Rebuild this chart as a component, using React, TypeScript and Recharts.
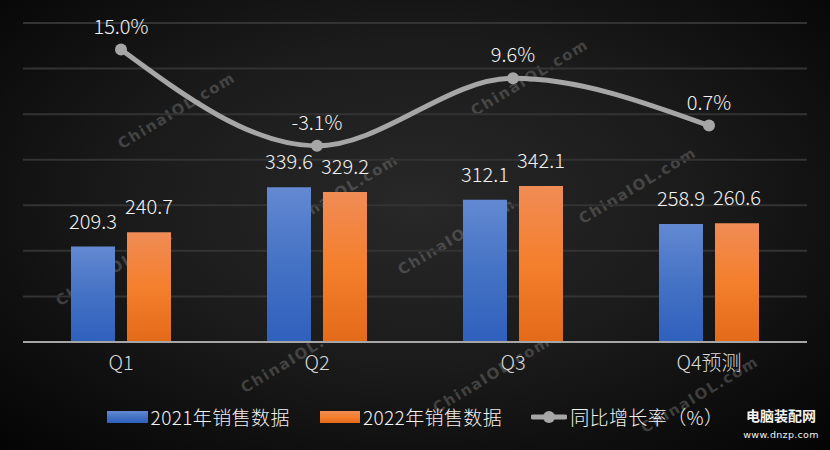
import React from "react";
import {
  ComposedChart,
  Bar,
  Line,
  XAxis,
  YAxis,
  CartesianGrid,
  LabelList,
  Legend,
} from "recharts";

const quarters = ["Q1", "Q2", "Q3", "Q4预测"];
const sales2021 = [209.3, 339.6, 312.1, 258.9];
const sales2022 = [240.7, 329.2, 342.1, 260.6];
const growthRate = [15.0, -3.1, 9.6, 0.7];
const salesTicks = [0, 100, 200, 300, 400, 500, 600, 700];

const data = quarters.map((q, i) => ({
  q,
  s2021: sales2021[i],
  s2022: sales2022[i],
  rate: growthRate[i],
}));

const FONT = '"Noto Sans CJK SC", "Noto Sans", sans-serif';
const BLUE_GRAD = "linear-gradient(#6389d2, #4472c4 50%, #2f60bd)";
const ORANGE_GRAD = "linear-gradient(#f08c56, #f47f2c 50%, #e36a19)";

// watermark stamps (decoration only)
const stamps = [
  [177, 111],
  [115, 268],
  [340, 193],
  [300, 355],
  [457, 237],
  [530, 78],
  [638, 186],
  [492, 375],
  [700, 395],
];

function ChartLegend() {
  const text: React.CSSProperties = {
    color: "#f2f2f2",
    fontSize: 19,
    fontWeight: 300,
    fontFamily: FONT,
    letterSpacing: 0.4,
    marginLeft: 3,
    whiteSpace: "nowrap",
  };
  return (
    <div style={{ display: "flex", justifyContent: "center", alignItems: "center" }}>
      <div style={{ width: 41, height: 12, background: BLUE_GRAD }} />
      <span style={text}>2021年销售数据</span>
      <div style={{ width: 40, height: 12, background: ORANGE_GRAD, marginLeft: 30 }} />
      <span style={text}>2022年销售数据</span>
      <svg width={36} height={14} style={{ marginLeft: 29 }}>
        <line x1={2} y1={7} x2={34} y2={7} stroke="#a6a6a6" strokeWidth={5} strokeLinecap="round" />
        <circle cx={18} cy={7} r={6} fill="#a6a6a6" />
      </svg>
      <span style={text}>同比增长率（%）</span>
    </div>
  );
}

export default function App() {
  return (
    <div
      style={{
        position: "absolute",
        left: 0,
        top: 0,
        width: 830,
        height: 450,
        overflow: "hidden",
        background:
          "radial-gradient(ellipse 75% 80% at 50% 45%, #282828 0%, #1b1b1b 45%, #0b0b0b 80%, #020202 100%)",
      }}
    >
      <svg width={830} height={450} style={{ position: "absolute", left: 0, top: 0 }}>
        {stamps.map(([x, y], i) => (
          <text
            key={i}
            x={x}
            y={y}
            textAnchor="middle"
            dominantBaseline="middle"
            transform={`rotate(-31 ${x} ${y})`}
            fill="#8a8a8a"
            fillOpacity={0.38}
            fontFamily='"DejaVu Sans", sans-serif'
            fontWeight="bold"
            fontSize={15}
            letterSpacing={1.5}
          >
            ChinaIOL.com
          </text>
        ))}
      </svg>

      <div style={{ position: "absolute", left: 0, top: 0 }}>
        <ComposedChart
          width={830}
          height={450}
          data={data}
          margin={{ top: 23, right: 23, bottom: 78, left: 23 }}
          barSize={44}
          barGap={12}
        >
          <defs>
            <linearGradient id="blueBar" x1="0" y1="0" x2="0" y2="1">
              <stop offset="0%" stopColor="#6389d2" />
              <stop offset="50%" stopColor="#4472c4" />
              <stop offset="100%" stopColor="#2f60bd" />
            </linearGradient>
            <linearGradient id="orangeBar" x1="0" y1="0" x2="0" y2="1">
              <stop offset="0%" stopColor="#f08c56" />
              <stop offset="50%" stopColor="#f47f2c" />
              <stop offset="100%" stopColor="#e36a19" />
            </linearGradient>
          </defs>
          <CartesianGrid yAxisId="sales" vertical={false} stroke="#333333" strokeWidth={2} />
          <XAxis
            dataKey="q"
            height={30}
            tickLine={false}
            axisLine={{ stroke: "#a6a6a6", strokeWidth: 2 }}
            tick={{ fill: "#d9d9d9", fontSize: 20, fontWeight: 300, fontFamily: FONT }}
            tickMargin={8}
          />
          <YAxis yAxisId="sales" hide domain={[0, 700]} ticks={salesTicks} />
          <YAxis yAxisId="pct" hide orientation="right" domain={[-40, 20]} />
          <Legend
            layout="horizontal"
            verticalAlign="middle"
            align="center"
            content={() => <ChartLegend />}
            wrapperStyle={{ top: 403, left: 0, width: 830 }}
          />
          <Bar yAxisId="sales" dataKey="s2021" name="2021年销售数据" fill="url(#blueBar)" isAnimationActive={false}>
            <LabelList
              dataKey="s2021"
              position="top"
              offset={18}
              formatter={(v: number) => v.toFixed(1)}
              fill="#f2f2f2"
              fontSize={20}
              fontWeight={300}
              fontFamily={FONT}
            />
          </Bar>
          <Bar yAxisId="sales" dataKey="s2022" name="2022年销售数据" fill="url(#orangeBar)" isAnimationActive={false}>
            <LabelList
              dataKey="s2022"
              position="top"
              offset={18}
              formatter={(v: number) => v.toFixed(1)}
              fill="#f2f2f2"
              fontSize={20}
              fontWeight={300}
              fontFamily={FONT}
            />
          </Bar>
          <Line
            yAxisId="pct"
            dataKey="rate"
            name="同比增长率（%）"
            type="monotone"
            stroke="#a6a6a6"
            strokeWidth={5}
            dot={{ r: 6, fill: "#a6a6a6", stroke: "none" }}
            activeDot={false}
            isAnimationActive={false}
          >
            <LabelList
              dataKey="rate"
              position="top"
              offset={16}
              formatter={(v: number) => v.toFixed(1) + "%"}
              fill="#f2f2f2"
              fontSize={20}
              fontWeight={300}
              fontFamily={FONT}
            />
          </Line>
        </ComposedChart>
      </div>

      <div
        style={{
          position: "absolute",
          left: 736,
          top: 408,
          width: 90,
          textAlign: "center",
          color: "#f2f2f2",
          fontFamily: FONT,
          lineHeight: 1,
          whiteSpace: "nowrap",
        }}
      >
        <div style={{ fontSize: 14, fontWeight: 700 }}>电脑装配网</div>
        <div
          style={{
            fontSize: 9.5,
            marginTop: 8,
            letterSpacing: 0.3,
            fontFamily: '"DejaVu Sans", sans-serif',
          }}
        >
          www.dnzp.com
        </div>
      </div>
    </div>
  );
}
